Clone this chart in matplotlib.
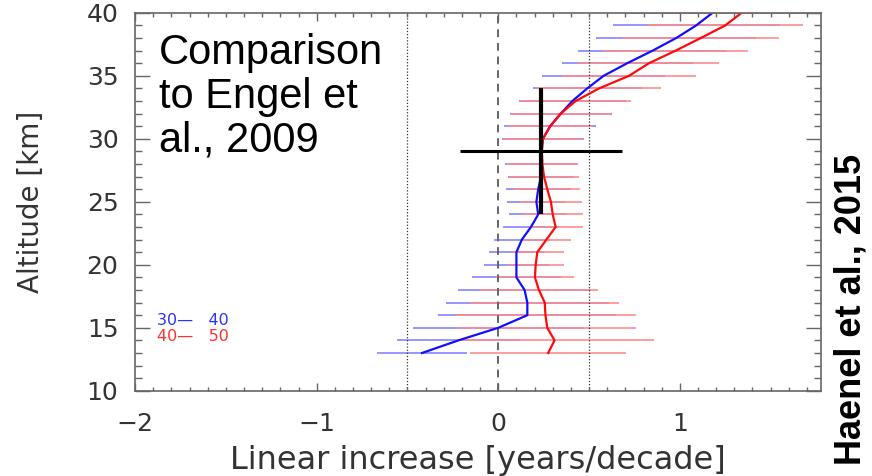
import numpy as np
import matplotlib.pyplot as plt
from matplotlib.ticker import MultipleLocator

# altitude levels [km]
altitude = np.arange(13, 41)

# trend of age of air, latitude band 30-40 (blue) and 40-50 (red)
trend_30_40 = [-0.42, -0.22, 0.00, 0.16, 0.16, 0.145, 0.10, 0.10, 0.10, 0.13,
               0.18, 0.22, 0.21, 0.22, 0.235, 0.235, 0.237, 0.246, 0.285, 0.344,
               0.408, 0.49, 0.58, 0.71, 0.85, 0.98, 1.09, 1.18]
err_30_40 = [0.25, 0.34, 0.47, 0.49, 0.45, 0.365, 0.245, 0.18, 0.15, 0.155,
             0.156, 0.16, 0.16, 0.178, 0.18, 0.20, 0.21, 0.224, 0.255, 0.28,
             0.294, 0.30, 0.34, 0.36, 0.41, 0.44, 0.46, 0.48]
trend_40_50 = [0.275, 0.31, 0.27, 0.26, 0.256, 0.224, 0.202, 0.206, 0.215, 0.265,
               0.316, 0.30, 0.29, 0.27, 0.252, 0.243, 0.24, 0.246, 0.287, 0.344,
               0.426, 0.555, 0.72, 0.83, 0.977, 1.115, 1.25, 1.34]
err_40_50 = [0.43, 0.55, 0.49, 0.50, 0.41, 0.325, 0.217, 0.156, 0.147, 0.135,
             0.149, 0.164, 0.17, 0.182, 0.193, 0.196, 0.21, 0.222, 0.231, 0.275,
             0.307, 0.341, 0.371, 0.386, 0.40, 0.432, 0.43, 0.47]

# Engel et al. 2009 estimate
engel_trend = 0.237
engel_err = 0.445
engel_alt = 29
engel_alt_err = 5

fig = plt.figure(figsize=(8.72, 4.76), dpi=100)
ax = fig.add_axes([0.155, 0.179, 0.787, 0.794])

ax.hlines(altitude, np.array(trend_30_40) - err_30_40, np.array(trend_30_40) + err_30_40,
          color='#8484ff', lw=1.2, zorder=1)
ax.hlines(altitude, np.array(trend_40_50) - err_40_50, np.array(trend_40_50) + err_40_50,
          color='#ff8c8c', lw=1.2, zorder=1.1)

ax.axvline(0, color='#666666', ls=(0, (4, 3)), lw=1.4, zorder=1.5)
for xv in [-0.5, 0.5]:
	ax.axvline(xv, color='#333333', ls=(0, (1, 1.5)), lw=0.9, zorder=1.5)

ax.plot(trend_30_40, altitude, color='#1010ff', lw=1.6, zorder=2)
ax.plot(trend_40_50, altitude, color='#ff0a0a', lw=1.6, zorder=2.1)

ax.errorbar(engel_trend, engel_alt, xerr=engel_err, fmt='none', ecolor='k', elinewidth=2.2, capsize=0, zorder=3)
ax.errorbar(engel_trend, engel_alt, yerr=engel_alt_err, fmt='none', ecolor='k', elinewidth=3.0, capsize=0, zorder=3)

ax.set_xlim(-2, 1.78)
ax.set_ylim(10, 40)
ax.xaxis.set_major_locator(MultipleLocator(1))
ax.xaxis.set_minor_locator(MultipleLocator(0.1))
ax.yaxis.set_major_locator(MultipleLocator(5))
ax.yaxis.set_minor_locator(MultipleLocator(1))

axcol = '#666666'
for s in ax.spines.values():
	s.set_color(axcol)
	s.set_linewidth(1.2)
ax.tick_params(axis='both', which='both', direction='in', top=True, right=True, color=axcol, width=1.0)
ax.tick_params(axis='x', which='major', length=6, pad=15)
ax.tick_params(axis='x', which='minor', length=3)
ax.tick_params(axis='y', which='major', length=11, pad=12)
ax.tick_params(axis='y', which='minor', length=5)

tick_font = dict(family='DejaVu Sans', size=18, color='#333333')
ax.set_xticks([-2, -1, 0, 1])
ax.set_xticklabels(['\u22122', '\u22121', '0', '1'], **tick_font)
ax.set_yticks([10, 15, 20, 25, 30, 35, 40])
ax.set_yticklabels(['10', '15', '20', '25', '30', '35', '40'], **tick_font)

ax.set_xlabel('Linear increase [years/decade]', fontsize=23, color='#333333', labelpad=7)
ax.set_ylabel('Altitude [km]', fontsize=20, color='#333333', labelpad=30)

ax.text(0.032, 0.186, '30\u2014   40', transform=ax.transAxes, color='#3030ff', fontsize=11.5, va='center')
ax.text(0.032, 0.143, '40\u2014   50', transform=ax.transAxes, color='#ff3030', fontsize=11.5, va='center')

fig.text(0.182, 0.93, 'Comparison\nto Engel et\nal., 2009', family='Liberation Sans', fontsize=30,
         va='top', ha='left', linespacing=1.12)
fig.text(0.976, 0.349, 'Haenel et al., 2015', family='Liberation Sans', fontweight='bold',
         fontsize=26, rotation=90, ha='center', va='center')

fig.savefig('out.png', dpi=100)
